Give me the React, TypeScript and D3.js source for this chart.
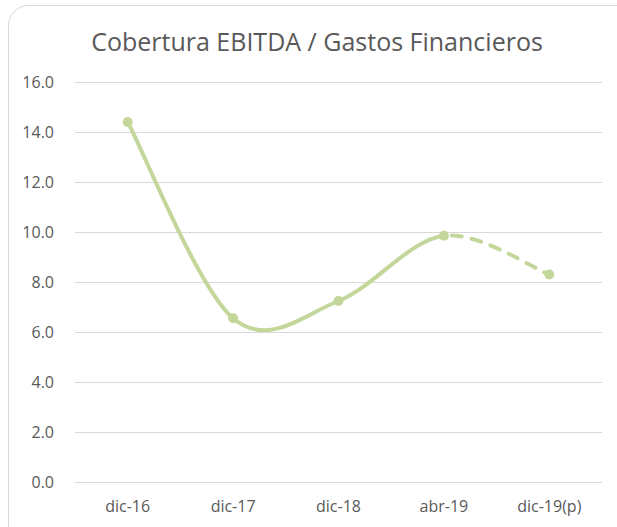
import React, { useEffect, useRef } from "react";
import * as d3 from "d3";

const categories = ["dic-16", "dic-17", "dic-18", "abr-19", "dic-19(p)"];
const values = [14.4, 6.55, 7.24, 9.85, 8.3];
const yTicks = [0, 2, 4, 6, 8, 10, 12, 14, 16];
const title = "Cobertura EBITDA / Gastos Financieros";

const W = 617;
const H = 527;
const margin = { top: 82, right: 15, bottom: 45, left: 75 };
const lineColor = "#c4d79b";
const textColor = "#595959";
const font = "'Open Sans', sans-serif";

// Excel style smoothing: cardinal spline, one bezier per segment
function segmentPath(pts: [number, number][], i: number) {
  const p0 = pts[Math.max(i - 1, 0)];
  const p1 = pts[i];
  const p2 = pts[i + 1];
  const p3 = pts[Math.min(i + 2, pts.length - 1)];
  const p = d3.path();
  p.moveTo(p1[0], p1[1]);
  p.bezierCurveTo(
    p1[0] + (p2[0] - p0[0]) / 6,
    p1[1] + (p2[1] - p0[1]) / 6,
    p2[0] - (p3[0] - p1[0]) / 6,
    p2[1] - (p3[1] - p1[1]) / 6,
    p2[0],
    p2[1]
  );
  return p.toString();
}

const App = () => {
  const svgRef = useRef<SVGSVGElement>(null);

  useEffect(() => {
    const svg = d3.select(svgRef.current);
    svg.selectAll("*").remove();

    const innerWidth = W - margin.left - margin.right;
    const innerHeight = H - margin.top - margin.bottom;

    // Chart frame
    svg
      .append("rect")
      .attr("x", 8.5)
      .attr("y", 5.5)
      .attr("width", 640)
      .attr("height", 560)
      .attr("rx", 20)
      .attr("fill", "#fff")
      .attr("stroke", "#d9d9d9")
      .attr("stroke-width", 1);

    const x = d3
      .scaleBand()
      .domain(categories)
      .range([0, innerWidth]);

    const y = d3.scaleLinear().domain([0, 16]).range([innerHeight, 0]);

    const g = svg
      .append("g")
      .attr("transform", `translate(${margin.left},${margin.top})`);

    // Gridlines
    g.selectAll("line.grid")
      .data(yTicks)
      .join("line")
      .attr("class", "grid")
      .attr("x1", 0)
      .attr("x2", innerWidth)
      .attr("y1", (d) => Math.round(y(d)) + 0.5)
      .attr("y2", (d) => Math.round(y(d)) + 0.5)
      .attr("stroke", "#d9d9d9")
      .attr("stroke-width", 1);

    // Y labels
    g.selectAll("text.ylab")
      .data(yTicks)
      .join("text")
      .attr("class", "ylab")
      .attr("x", -21)
      .attr("y", (d) => y(d))
      .attr("dy", "0.36em")
      .attr("text-anchor", "end")
      .style("font-family", font)
      .style("font-size", "16px")
      .attr("fill", textColor)
      .text((d) => d3.format(".1f")(d));

    // X labels
    g.selectAll("text.xlab")
      .data(categories)
      .join("text")
      .attr("class", "xlab")
      .attr("x", (d) => x(d)! + x.bandwidth() / 2)
      .attr("y", innerHeight + 30)
      .attr("text-anchor", "middle")
      .style("font-family", font)
      .style("font-size", "16px")
      .attr("fill", textColor)
      .text((d) => d);

    const pts: [number, number][] = categories.map((c, i) => [
      x(c)! + x.bandwidth() / 2,
      y(values[i]),
    ]);

    // Line: actual values solid, projected segment dashed
    for (let i = 0; i < pts.length - 1; i++) {
      const last = i === pts.length - 2;
      g.append("path")
        .attr("d", segmentPath(pts, i))
        .attr("fill", "none")
        .attr("stroke", lineColor)
        .attr("stroke-width", 4)
        .attr("stroke-linecap", "round")
        .attr("stroke-dasharray", last ? "10,10" : null)
        .attr("stroke-dashoffset", last ? -8 : null);
    }

    g.selectAll("circle")
      .data(pts)
      .join("circle")
      .attr("cx", (d) => d[0])
      .attr("cy", (d) => d[1])
      .attr("r", 5)
      .attr("fill", lineColor);

    // Title
    svg
      .append("text")
      .attr("x", 317)
      .attr("y", 51)
      .attr("text-anchor", "middle")
      .style("font-family", font)
      .style("font-size", "25px")
      .attr("fill", textColor)
      .text(title);
  }, []);

  return (
    <svg
      ref={svgRef}
      width={W}
      height={H}
      style={{ position: "absolute", left: 0, top: 0, display: "block" }}
    />
  );
};

export default App;
